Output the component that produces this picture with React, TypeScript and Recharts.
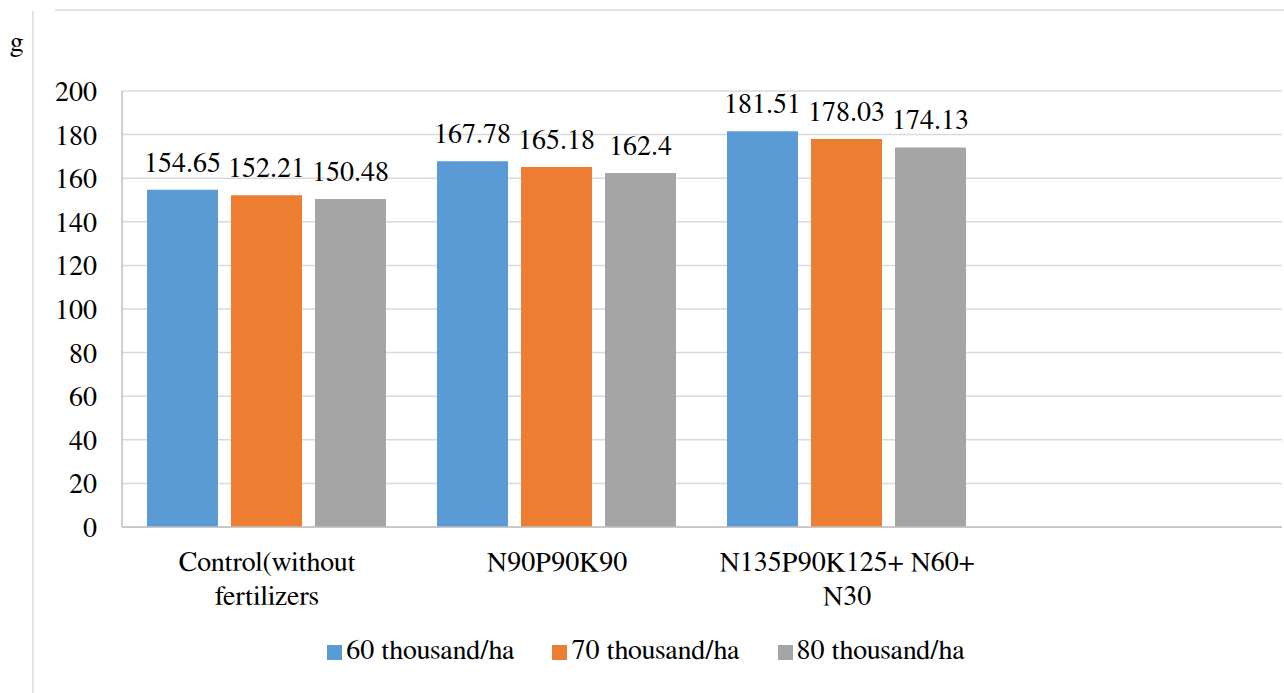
import React from "react";
import { BarChart, Bar, XAxis, YAxis, CartesianGrid, Legend, LabelList } from "recharts";

const categories = ["Control(without\nfertilizers", "N90P90K90", "N135P90K125+ N60+\nN30", ""];
const series60 = [154.65, 167.78, 181.51, null];
const series70 = [152.21, 165.18, 178.03, null];
const series80 = [150.48, 162.4, 174.13, null];
const yTicks = [0, 20, 40, 60, 80, 100, 120, 140, 160, 180, 200];
const seriesNames = ["60 thousand/ha", "70 thousand/ha", "80 thousand/ha"];
const colors = ["#5b9bd5", "#ed7d31", "#a5a5a5"];

const data = categories.map((c, i) => ({
  category: c,
  s60: series60[i],
  s70: series70[i],
  s80: series80[i],
}));

const FONT = "FreeSerif";

const CategoryTick = (props: any) => {
  const { x, y, payload } = props;
  const lines = String(payload.value).split("\n");
  return (
    <text x={x} y={y} textAnchor="middle" fontFamily={FONT} fontSize={28} fill="#000">
      {lines.map((l: string, i: number) => (
        <tspan key={i} x={x} y={y + 38 + i * 33.5}>
          {l}
        </tspan>
      ))}
    </text>
  );
};

const YTick = (props: any) => {
  const { x, y, payload } = props;
  return (
    <text x={x} y={y} dy="0.355em" textAnchor="end" fontFamily={FONT} fontSize={28} fill="#000">
      {payload.value}
    </text>
  );
};

export default function App() {
  return (
    <div style={{ position: "absolute", left: 0, top: 0, width: 1284, height: 693, background: "#fff", fontFamily: FONT }}>
      <div style={{ position: "absolute", left: 55, top: 9, width: 1229, height: 2, background: "#e3e3e3" }} />
      <div style={{ position: "absolute", left: 32, top: 11, width: 2, height: 682, background: "#e3e3e3" }} />
      <div style={{ position: "absolute", left: 10, top: 25, fontSize: 28, lineHeight: "36px", color: "#000", fontFamily: FONT }}>g</div>
      <BarChart
        width={1284}
        height={693}
        data={data}
        margin={{ top: 91, right: 2, left: 0, bottom: 17 }}
        barCategoryGap={25}
        barGap={13}
        style={{ position: "absolute", left: 0, top: 0 }}
      >
        <CartesianGrid vertical={false} stroke="#d9d9d9" strokeWidth={1.5} />
        <XAxis
          dataKey="category"
          height={109}
          tickLine={false}
          tickMargin={0}
          axisLine={{ stroke: "#c0c0c0", strokeWidth: 1.5 }}
          tick={<CategoryTick />}
          interval={0}
        />
        <YAxis
          width={122}
          domain={[0, 200]}
          ticks={yTicks}
          tickLine={false}
          tickMargin={19}
          axisLine={{ stroke: "#c0c0c0", strokeWidth: 1.5 }}
          tick={<YTick />}
        />
        <Legend
          verticalAlign="bottom"
          height={40}
          iconType="square"
          iconSize={15}
          wrapperStyle={{ left: 24, fontSize: 28, fontFamily: FONT }}
          formatter={(value: any) => (
            <span style={{ color: "#000", marginRight: 28, fontFamily: FONT }}>{value}</span>
          )}
        />
        {["s60", "s70", "s80"].map((k, i) => (
          <Bar key={k} dataKey={k} name={seriesNames[i]} fill={colors[i]} isAnimationActive={false}>
            <LabelList
              dataKey={k}
              position="top"
              offset={18}
              fill="#000"
              fontFamily={FONT}
              fontSize={28}
            />
          </Bar>
        ))}
      </BarChart>
    </div>
  );
}
